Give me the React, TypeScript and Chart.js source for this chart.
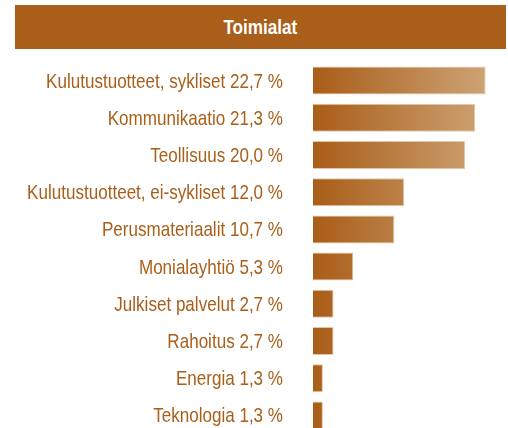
import React, { useEffect, useRef } from "react";
import { Chart, registerables } from "chart.js";

Chart.register(...registerables);

const TITLE = "Toimialat";
const categories = [
  "Kulutustuotteet, sykliset",
  "Kommunikaatio",
  "Teollisuus",
  "Kulutustuotteet, ei-sykliset",
  "Perusmateriaalit",
  "Monialayhtiö",
  "Julkiset palvelut",
  "Rahoitus",
  "Energia",
  "Teknologia",
];
const values = [22.7, 21.3, 20.0, 12.0, 10.7, 5.3, 2.7, 2.7, 1.3, 1.3];
const tickLabels = categories.map(
  (c, i) => `${c} ${values[i].toFixed(1).replace(".", ",")} %`
);

const BROWN = "#a95e19";
const FONT = '"Liberation Sans", Arial, sans-serif';

// Draws the y-axis category labels in a condensed style (horizontally scaled),
// positioned through the library's own y scale.
const condensedLabels = {
  id: "condensedLabels",
  afterDraw(chart: any) {
    const ys = chart.scales.y;
    const c = chart.ctx;
    const labels = chart.data.labels as string[];
    const xRight = chart.chartArea.left - 30;
    c.save();
    c.fillStyle = BROWN;
    c.font = `21px ${FONT}`;
    c.textAlign = "right";
    c.textBaseline = "alphabetic";
    labels.forEach((lab, i) => {
      const y = ys.getPixelForTick(i);
      c.save();
      c.translate(xRight, y + 7);
      c.scale(0.812, 1);
      c.fillText(lab, 0, 0);
      c.restore();
    });
    c.restore();
  },
};

export default function App() {
  const ref = useRef<HTMLCanvasElement | null>(null);

  useEffect(() => {
    if (!ref.current) return;
    const chart = new Chart(ref.current, {
      type: "bar",
      data: {
        labels: tickLabels,
        datasets: [
          {
            data: values,
            backgroundColor: (ctx: any) => {
              const ch = ctx.chart;
              const area = ch.chartArea;
              if (!area) return BROWN;
              const g = ch.ctx.createLinearGradient(area.left, 0, area.left + 178, 0);
              g.addColorStop(0, "#a95d18");
              g.addColorStop(1, "#cea577");
              return g;
            },
            borderColor: "#e2c7a6",
            borderWidth: 1,
            borderSkipped: "left",
            categoryPercentage: 1,
            barPercentage: 0.753,
          },
        ],
      },
      options: {
        indexAxis: "y",
        animation: false,
        responsive: false,
        maintainAspectRatio: false,
        layout: { padding: { top: 62, bottom: 6, left: 0, right: 6 } },
        plugins: {
          legend: { display: false },
          tooltip: { enabled: false },
          title: { display: false },
        },
        scales: {
          x: { display: false, min: 0, max: 24.85 },
          y: {
            grid: { display: false, drawTicks: false },
            border: { display: false },
            afterFit: (s: any) => {
              s.width = 313;
            },
            ticks: { display: false, padding: 0 },
          },
        },
      },
      plugins: [condensedLabels],
    });
    return () => chart.destroy();
  }, []);

  return (
    <div style={{ position: "absolute", left: 0, top: 0, width: 508, height: 440 }}>
      <canvas ref={ref} width={508} height={440} style={{ display: "block" }} />
      <div
        style={{
          position: "absolute",
          left: 15,
          top: 5,
          width: 491,
          height: 44,
          background: BROWN,
          color: "#ffffff",
          fontFamily: FONT,
          fontWeight: "bold",
          fontSize: 21,
          lineHeight: "44px",
          textAlign: "center",
        }}
      >
        <span style={{ display: "inline-block", transform: "scaleX(0.815)" }}>{TITLE}</span>
      </div>
    </div>
  );
}
